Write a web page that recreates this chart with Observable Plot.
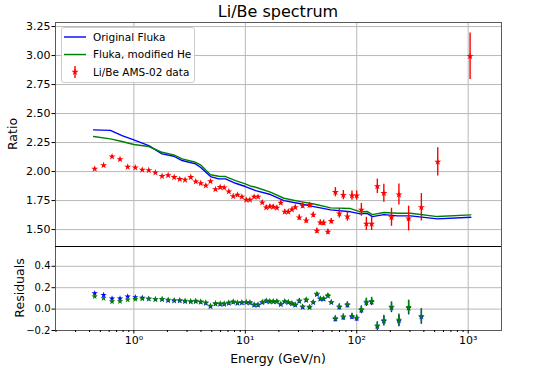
<!DOCTYPE html>
<html><head><meta charset="utf-8">
<script src="https://cdn.jsdelivr.net/npm/d3@7"></script>
<script src="https://cdn.jsdelivr.net/npm/@observablehq/plot@0.6"></script>
<style>
body{margin:0;background:#fff;}
#chart{position:relative;width:557px;height:368px;background:#fff;font-family:"DejaVu Sans",sans-serif;}
#chart svg{position:absolute;left:0;overflow:visible;}
</style></head><body><div id="chart"></div>
<script>
// ---- data ----
const energy = [0.445,0.535,0.637,0.751,0.880,1.03,1.19,1.36,1.56,1.79,
  2.03,2.30,2.58,2.88,3.24,3.59,3.98,4.42,4.87,5.40,
  5.95,6.46,7.11,7.79,8.51,9.31,10.2,11.0,12.0,13.0,
  14.2,15.4,16.6,17.8,19.2,20.8,22.6,24.3,26.2,28.1,
  30.5,32.7,35.2,37.7,40.7,43.9,47.1,50.4,55.1,59.1,
  64.3,69.8,75.8,82.4,90.6,99.8,110,122,136,153,
  175,205,239,292,380,533,1040];
const ratio = [2.023,2.054,2.129,2.106,2.040,2.034,2.015,2.011,1.991,1.960,
  1.968,1.951,1.934,1.928,1.951,1.914,1.899,1.879,1.916,1.847,
  1.865,1.862,1.828,1.787,1.799,1.782,1.756,1.756,1.782,1.782,
  1.733,1.690,1.698,1.696,1.687,1.730,1.653,1.653,1.672,1.692,
  1.603,1.705,1.578,1.710,1.627,1.489,1.560,1.558,1.480,1.572,
  1.822,1.638,1.797,1.612,1.793,1.793,1.670,1.549,1.549,1.873,
  1.813,1.606,1.802,1.595,1.692,2.084,2.994];
const ratioErr = [0.008,0.008,0.008,0.008,0.008,0.008,0.008,0.008,0.008,0.008,
  0.008,0.008,0.008,0.008,0.008,0.008,0.008,0.008,0.008,0.008,
  0.010,0.010,0.010,0.010,0.010,0.010,0.010,0.010,0.010,0.010,
  0.017,0.017,0.017,0.017,0.017,0.017,0.017,0.017,0.017,0.017,
  0.023,0.023,0.023,0.023,0.023,0.023,0.023,0.023,0.023,0.023,
  0.040,0.040,0.040,0.040,0.040,0.040,0.055,0.057,0.057,0.062,
  0.078,0.078,0.090,0.107,0.118,0.122,0.200];

const modelEnergy = [0.435,0.615,0.783,0.998,1.36,1.79,2.28,2.71,3.57,3.96,
  4.87,5.78,6.64,8.17,10.0,11.3,12.4,16.8,22.2,31.3,
  41.2,58.3,88.1,108,124,138,175,232,305,530,1055];
const flukaOriginal = [2.359,2.355,2.310,2.273,2.224,2.153,2.132,2.095,2.066,2.037,
  1.957,1.937,1.937,1.899,1.871,1.851,1.836,1.802,1.750,1.722,
  1.698,1.670,1.653,1.635,1.640,1.612,1.629,1.618,1.618,1.592,1.606];
const flukaModifiedHe = [2.302,2.282,2.259,2.233,2.216,2.166,2.144,2.109,2.080,2.058,
  1.972,1.960,1.957,1.922,1.894,1.873,1.865,1.822,1.770,1.741,
  1.720,1.687,1.681,1.653,1.656,1.629,1.647,1.641,1.641,1.612,1.627];

const residualBlue = [0.148,0.132,0.098,0.098,0.117,0.111,0.105,0.096,0.090,0.090,
  0.081,0.078,0.078,0.071,0.068,0.071,0.065,0.055,0.025,0.049,
  0.046,0.046,0.055,0.065,0.055,0.058,0.061,0.058,0.037,0.037,
  0.061,0.074,0.068,0.068,0.068,0.043,0.068,0.061,0.049,0.037,
  0.074,0.018,0.083,0.015,0.061,0.136,0.093,0.093,0.123,0.061,
  -0.094,0.017,-0.078,0.036,-0.072,-0.088,-0.010,0.060,0.067,-0.162,
  -0.112,0.014,-0.109,0.011,-0.072];
const residualGreen = [0.117,0.102,0.070,0.072,0.088,0.093,0.097,0.096,0.094,0.094,
  0.086,0.083,0.083,0.077,0.074,0.077,0.071,0.061,0.031,0.055,
  0.052,0.052,0.061,0.071,0.061,0.064,0.067,0.064,0.043,0.043,
  0.067,0.080,0.074,0.074,0.074,0.049,0.074,0.067,0.055,0.043,
  0.080,0.024,0.089,0.021,0.067,0.142,0.099,0.099,0.129,0.067,
  -0.086,0.025,-0.070,0.044,-0.064,-0.080,-0.002,0.068,0.075,-0.154,
  -0.104,0.022,-0.101,0.019,-0.064];
const residualErr = [0.005,0.005,0.005,0.005,0.005,0.005,0.005,0.005,0.005,0.005,
  0.005,0.005,0.005,0.005,0.005,0.005,0.005,0.005,0.005,0.005,
  0.007,0.007,0.007,0.007,0.007,0.007,0.007,0.007,0.007,0.007,
  0.010,0.010,0.010,0.010,0.010,0.010,0.010,0.010,0.010,0.010,
  0.014,0.014,0.014,0.014,0.014,0.014,0.014,0.014,0.014,0.014,
  0.025,0.025,0.025,0.025,0.025,0.025,0.033,0.035,0.035,0.037,
  0.047,0.047,0.055,0.065,0.070];

const ratioTicks = [1.5,1.75,2.0,2.25,2.5,2.75,3.0,3.25];
const residualTicks = [-0.2,0.0,0.2,0.4];
const xMajorTicks = [1,10,100,1000];
const xMinorTicks = [0.2,0.3,0.4,0.5,0.6,0.7,0.8,0.9,2,3,4,5,6,7,8,9,
  20,30,40,50,60,70,80,90,200,300,400,500,600,700,800,900];
const superscripts = {"0":"⁰","1":"¹","2":"²","3":"³"};
const legendLabels = ["Original Fluka","Fluka, modified He","Li/Be AMS-02 data"];
const legendColors = ["blue","green","red"];
const titleText = "Li/Be spectrum";
const yLabelTop = "Ratio";
const yLabelBottom = "Residuals";
const xLabel = "Energy (GeV/n)";

const xDomain = [0.198, 1990];
const ratioDomain = [1.354, 3.285];
const residualDomain = [-0.2, 0.585];

// ---- build ----
const FONT = "DejaVu Sans";
const GRID = "#b8b8b8";
const FRAME = "#5a5a5a";
const ratioRows = energy.map((E, i) => ({E, r: ratio[i], lo: ratio[i] - ratioErr[i], hi: ratio[i] + ratioErr[i]}));
const modelRows = modelEnergy.map((E, i) => ({E, orig: flukaOriginal[i], modHe: flukaModifiedHe[i]}));
const resRows = residualBlue.map((b, i) => ({E: energy[i], b, g: residualGreen[i], e: residualErr[i]}));
const styleObj = {fontFamily: FONT, fontSize: "11px", color: "black", background: "transparent", overflow: "visible"};

const topPlot = Plot.plot({
  width: 557, height: 246, marginTop: 22, marginBottom: 0, marginLeft: 55, marginRight: 56,
  x: {type: "log", domain: xDomain, axis: null},
  y: {domain: ratioDomain},
  style: styleObj,
  marks: [
    Plot.gridY(ratioTicks, {stroke: GRID, strokeOpacity: 1, strokeWidth: 1}),
    Plot.gridX(xMajorTicks, {stroke: GRID, strokeOpacity: 1, strokeWidth: 1}),
    Plot.line(modelRows, {x: "E", y: "orig", stroke: "blue", strokeWidth: 1.4}),
    Plot.line(modelRows, {x: "E", y: "modHe", stroke: "green", strokeWidth: 1.4}),
    Plot.ruleX(ratioRows, {x: "E", y1: "lo", y2: "hi", stroke: "red", strokeWidth: 1.4}),
    Plot.dot(ratioRows, {x: "E", y: "r", symbol: "star", fill: "red", r: 2.2}),
    Plot.frame({stroke: FRAME, strokeWidth: 1}),
    Plot.axisY(ratioTicks, {tickFormat: d3.format(".2f"), tickSize: 3.5, tickPadding: 1.5, fontSize: 11, label: null})
  ]
});

const botPlot = Plot.plot({
  width: 557, height: 122, marginTop: 0, marginBottom: 38, marginLeft: 55, marginRight: 56,
  x: {type: "log", domain: xDomain},
  y: {domain: residualDomain},
  style: styleObj,
  marks: [
    Plot.gridY(residualTicks, {stroke: GRID, strokeOpacity: 1, strokeWidth: 1}),
    Plot.gridX(xMajorTicks, {stroke: GRID, strokeOpacity: 1, strokeWidth: 1}),
    Plot.ruleX(resRows, {x: "E", y1: d => d.b - d.e, y2: d => d.b + d.e, stroke: "blue", strokeWidth: 1.4}),
    Plot.dot(resRows, {x: "E", y: "b", symbol: "star", fill: "blue", r: 2.0}),
    Plot.ruleX(resRows, {x: "E", y1: d => d.g - d.e, y2: d => d.g + d.e, stroke: "green", strokeWidth: 1.4}),
    Plot.dot(resRows, {x: "E", y: "g", symbol: "star", fill: "green", r: 2.0}),
    Plot.frame({stroke: FRAME, strokeWidth: 1}),
    Plot.ruleY([residualDomain[1]], {stroke: "black", strokeWidth: 1.2}),
    Plot.axisY(residualTicks, {tickFormat: d => (d < 0 ? "\u2212" : "") + Math.abs(d).toFixed(1), tickSize: 3.5, tickPadding: 1.5, fontSize: 10, label: null}),
    Plot.axisX(xMajorTicks, {tickFormat: d => "10" + superscripts[String(Math.round(Math.log10(d)))], tickSize: 3.5, tickPadding: 2, fontSize: 11, label: null}),
    Plot.axisX(xMinorTicks, {tickFormat: () => "", tickSize: 2, label: null})
  ]
});

const chart = document.getElementById("chart");
topPlot.style.top = "0px";
botPlot.style.top = "246px";
chart.appendChild(topPlot);
chart.appendChild(botPlot);

// titles and axis labels
const ts = d3.select(topPlot);
ts.append("text").attr("x", 278).attr("y", 16.5).attr("text-anchor", "middle")
  .attr("font-family", FONT).attr("font-size", 16).attr("fill", "black").text(titleText);
ts.append("text").attr("transform", "translate(16.5,134) rotate(-90)").attr("text-anchor", "middle")
  .attr("font-family", FONT).attr("font-size", 12.5).attr("fill", "black").text(yLabelTop);
const bs = d3.select(botPlot);
bs.append("text").attr("transform", "translate(23.5,42) rotate(-90)").attr("text-anchor", "middle")
  .attr("font-family", FONT).attr("font-size", 12.5).attr("fill", "black").text(yLabelBottom);
bs.append("text").attr("x", 278).attr("y", 117).attr("text-anchor", "middle")
  .attr("font-family", FONT).attr("font-size", 12.5).attr("fill", "black").text(xLabel);

// legend
const lg = ts.append("g").attr("font-family", FONT).attr("font-size", 10.5).attr("text-anchor", "start");
lg.append("rect").attr("x", 61.5).attr("y", 27.5).attr("width", 133).attr("height", 55).attr("rx", 2.5)
  .attr("fill", "white").attr("fill-opacity", 0.8).attr("stroke", "#cccccc");
legendLabels.forEach((lab, i) => {
  const y = 37 + i * 17.5;
  if (i < 2) {
    lg.append("line").attr("x1", 64).attr("x2", 86).attr("y1", y).attr("y2", y)
      .attr("stroke", legendColors[i]).attr("stroke-width", 1.4);
  } else {
    lg.append("line").attr("x1", 75).attr("x2", 75).attr("y1", y - 6).attr("y2", y + 6)
      .attr("stroke", legendColors[i]).attr("stroke-width", 1.4);
    lg.append("path").attr("d", d3.symbol(d3.symbolStar, Math.PI * 2.2 * 2.2)())
      .attr("transform", `translate(75,${y})`).attr("fill", legendColors[i]);
  }
  lg.append("text").attr("x", 93).attr("y", y).attr("dy", "0.35em").attr("text-anchor", "start")
    .attr("fill", "black").text(lab);
});
</script></body></html>
